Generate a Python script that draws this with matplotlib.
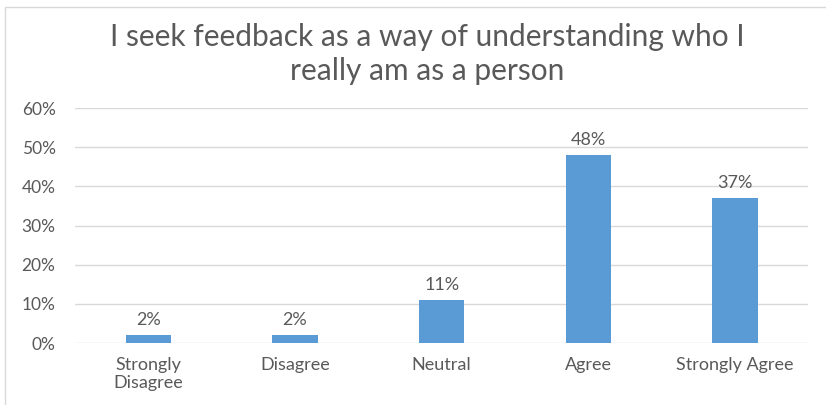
import matplotlib.pyplot as plt
from matplotlib.patches import Rectangle
from matplotlib.ticker import PercentFormatter

categories = ['Strongly\nDisagree', 'Disagree', 'Neutral', 'Agree', 'Strongly Agree']
values = [0.02, 0.02, 0.11, 0.48, 0.37]
labels = ['2%', '2%', '11%', '48%', '37%']
title = 'I seek feedback as a way of understanding who I\nreally am as a person'

plt.rcParams['font.family'] = ['Lato', 'DejaVu Sans']
grey = '#595959'

fig = plt.figure(figsize=(8.26, 4.05), dpi=100)
ax = fig.add_axes([0.0908, 0.153, 0.888, 0.58])

x = range(len(categories))
bars = ax.bar(x, values, width=0.31, color='#5B9BD5', zorder=3)
for b, lab in zip(bars, labels):
    ax.text(b.get_x() + b.get_width() / 2, b.get_height() + 0.018, lab,
            ha='center', va='bottom', fontsize=13, color=grey)

ax.set_xlim(-0.5, len(categories) - 0.5)
ax.set_ylim(0, 0.6)
ax.set_yticks([0, 0.1, 0.2, 0.3, 0.4, 0.5, 0.6])
ax.yaxis.set_major_formatter(PercentFormatter(1.0, decimals=0))
ax.set_xticks(list(x))
ax.set_xticklabels(categories, linespacing=1.15)
ax.tick_params(axis='both', length=0, colors=grey)
ax.tick_params(axis='x', pad=10, labelsize=13)
ax.tick_params(axis='y', pad=14, labelsize=12.5)
ax.grid(axis='y', color='#D9D9D9', linewidth=1, zorder=0)
for s in ax.spines.values():
    s.set_visible(False)

fig.text(0.517, 0.79, title, ha='center', va='bottom', fontsize=21.5,
         color=grey, linespacing=1.25)

# chart frame
fig.patches.append(Rectangle((0.006, -0.02), 1.1, 1.003, transform=fig.transFigure,
                             fill=False, edgecolor='#D9D9D9', linewidth=1))

fig.savefig('out.png', dpi=100)
